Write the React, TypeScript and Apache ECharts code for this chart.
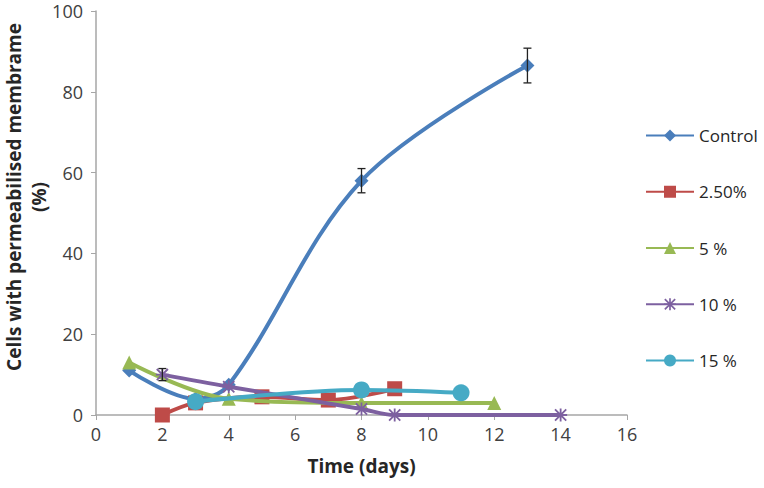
import React, { useEffect, useRef } from "react";
import * as echarts from "echarts";

const xTicks = [0, 2, 4, 6, 8, 10, 12, 14, 16];
const yTicks = [0, 20, 40, 60, 80, 100];

const yTitle = ["Cells with permeabilised membrame", "(%)"];
const xTitle = "Time (days)";
const seriesNames = ["Control", "2.50%", "5 %", "10 %", "15 %"];
const control = [[1, 11], [3, 4], [4, 7.5], [8, 58], [13, 86.5]];
const pct250 = [[2, 0], [3, 3], [5, 4.5], [7, 3.7], [9, 6.5]];
const pct5 = [[1, 13], [4, 4], [8, 3], [12, 3]];
const pct10 = [[2, 10], [4, 7], [8, 1.5], [9, 0], [14, 0]];
const pct15 = [[3, 3.3], [8, 6.2], [11, 5.5]];
// [x, y, error]
const errorBars = [[8, 58, 3], [13, 86.5, 4.3], [2, 10, 1.5]];

const colors = ["#4A7EBB", "#BE4B48", "#98B954", "#7D60A0", "#46AAC5"];
const asterisk =
  "path://M4.3,0H5.7V10H4.3Z M0,4.3H10V5.7H0Z M1.2,0.2L9.8,8.8L8.8,9.8L0.2,1.2Z M8.8,0.2L9.8,1.2L1.2,9.8L0.2,8.8Z";

export default function App() {
  const ref = useRef<HTMLDivElement>(null);
  useEffect(() => {
    const chart = echarts.init(ref.current!, null, { renderer: "svg" });
    const font = "'Open Sans', 'Liberation Sans', sans-serif";
    const datasets = [control, pct250, pct5, pct10, pct15];
    const symbols = ["diamond", "rect", "triangle", asterisk, "circle"];
    const sizes = [14, 15, 14, 13, 17];
    const lineSeries = datasets.map((d, i) => ({
      name: seriesNames[i],
      type: "line",
      data: d,
      smooth: 0.35,
      symbol: symbols[i],
      symbolSize: sizes[i],
      lineStyle: { color: colors[i], width: 4 },
      itemStyle: { color: colors[i] },
      z: 2 + i,
    }));
    const titleStyle = { fontSize: 19, fontWeight: "bold", fill: "#262626", fontFamily: font };
    chart.setOption({
      animation: false,
      color: colors,
      textStyle: { fontFamily: font },
      grid: { left: 96, right: 137, top: 11, bottom: 73, outerBoundsMode: "none", containLabel: false },
      legend: {
        orient: "vertical",
        left: 640,
        top: 122,
        itemWidth: 48,
        itemHeight: 15,
        itemGap: 39.25,
        data: seriesNames,
        textStyle: { fontSize: 17, color: "#262626", fontFamily: font },
      },
      graphic: [
        {
          type: "text",
          x: 14,
          y: 197,
          rotation: Math.PI / 2,
          style: { ...titleStyle, text: yTitle[0], align: "center", verticalAlign: "middle" },
        },
        {
          type: "text",
          x: 39,
          y: 197,
          rotation: Math.PI / 2,
          style: { ...titleStyle, text: yTitle[1], align: "center", verticalAlign: "middle" },
        },
      ],
      xAxis: {
        type: "value",
        min: 0,
        max: 16,
        interval: 2,
        name: xTitle,
        nameLocation: "middle",
        nameGap: 41,
        nameTextStyle: { fontSize: 19, fontWeight: "bold", color: "#262626" },
        axisLine: { lineStyle: { color: "#A6A6A6", width: 1.5 } },
        axisTick: { show: true, length: 5, lineStyle: { color: "#A6A6A6" } },
        axisLabel: { fontSize: 18, color: "#404040", margin: 10 },
        splitLine: { show: false },
      },
      yAxis: {
        type: "value",
        min: 0,
        max: 100,
        interval: 20,
        axisLine: { show: true, lineStyle: { color: "#A6A6A6", width: 1.5 } },
        axisTick: { show: true, length: 5, lineStyle: { color: "#A6A6A6" } },
        axisLabel: { fontSize: 18, color: "#404040", margin: 13 },
        splitLine: { show: false },
      },
      series: [
        ...lineSeries,
        {
          type: "custom",
          data: errorBars,
          z: 10,
          silent: true,
          renderItem: (params: any, api: any) => {
            const x = api.value(0);
            const y = api.value(1);
            const e = api.value(2);
            const top = api.coord([x, y + e]);
            const bot = api.coord([x, y - e]);
            const w = 4;
            const style = { stroke: "#222", lineWidth: 1.3 };
            return {
              type: "group",
              children: [
                { type: "line", shape: { x1: top[0], y1: top[1], x2: bot[0], y2: bot[1] }, style },
                { type: "line", shape: { x1: top[0] - w, y1: top[1], x2: top[0] + w, y2: top[1] }, style },
                { type: "line", shape: { x1: bot[0] - w, y1: bot[1], x2: bot[0] + w, y2: bot[1] }, style },
              ],
            };
          },
        },
      ],
    });
    return () => chart.dispose();
  }, []);
  return (
    <div
      ref={ref}
      style={{ position: "fixed", left: 0, top: 0, width: 764, height: 488, background: "#fff" }}
    />
  );
}
